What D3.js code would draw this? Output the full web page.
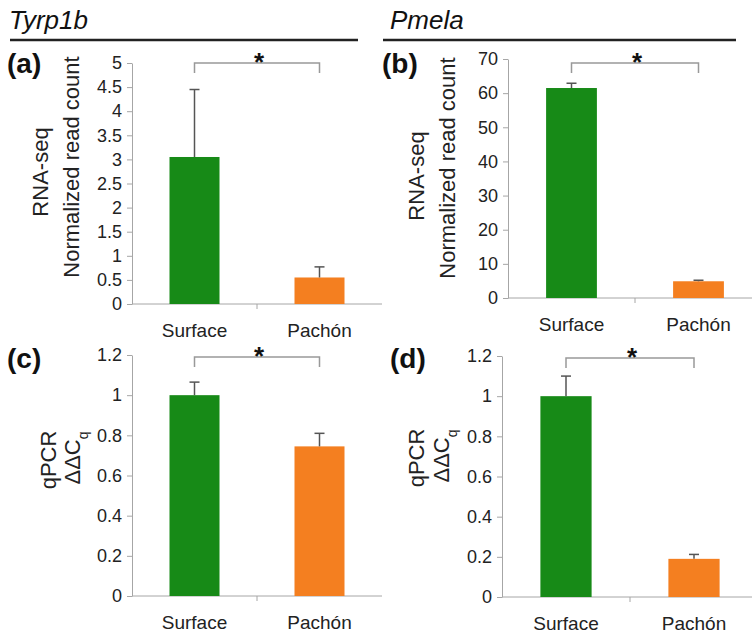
<!DOCTYPE html>
<html>
<head>
<meta charset="utf-8">
<script src="https://cdn.jsdelivr.net/npm/d3@7"></script>
<style>
  body { margin: 0; background: #fff; }
  svg { font-family: "Liberation Sans", Arial, sans-serif; }
</style>
</head>
<body>
<svg id="chart" width="752" height="633"></svg>
<script>
let categories = ["Surface", "Pachón"];

// values (bar height, upper error)
let tyrp1bRna = [3.05, 0.55];
let tyrp1bRnaErr = [1.4, 0.22];
let pmelaRna = [61.5, 4.9];
let pmelaRnaErr = [1.4, 0.3];
let tyrp1bQpcr = [1.0, 0.745];
let tyrp1bQpcrErr = [0.065, 0.065];
let pmelaQpcr = [1.0, 0.19];
let pmelaQpcrErr = [0.1, 0.022];

let ticksA = [0, 0.5, 1, 1.5, 2, 2.5, 3, 3.5, 4, 4.5, 5];
let ticksB = [0, 10, 20, 30, 40, 50, 60, 70];
let ticksQ = [0, 0.2, 0.4, 0.6, 0.8, 1, 1.2];

let color = d3.scaleOrdinal().domain(categories).range(["#178a17", "#f47f20"]);

let svg = d3.select("#chart");

// gene headers
function header(name, x, x1, x2) {
    svg.append("text")
        .attr("x", x).attr("y", 29)
        .style("font-style", "italic")
        .style("font-size", "26px")
        .attr("fill", "#111")
        .text(name);
    svg.append("line")
        .attr("x1", x1).attr("x2", x2)
        .attr("y1", 40).attr("y2", 40)
        .attr("stroke", "#222").attr("stroke-width", 2.5);
}
header("Tyrp1b", 9, 10, 358);
header("Pmela", 390, 383, 736);

function drawPanel(p) {
    let g = svg.append("g");

    let x = d3.scaleBand()
        .domain(categories)
        .range([p.left, p.right])
        .paddingInner(0.6)
        .paddingOuter(0.3);

    let y = d3.scaleLinear()
        .domain([0, p.ticks[p.ticks.length - 1]])
        .range([p.bottom, p.top]);

    // y axis
    let yAxis = g.append("g")
        .attr("transform", "translate(" + p.left + ",0)")
        .call(d3.axisLeft(y).tickValues(p.ticks).tickFormat(d => d).tickSize(5).tickSizeOuter(0).tickPadding(5));
    yAxis.selectAll("path, line").attr("stroke", "#a6a6a6");
    yAxis.selectAll("text")
        .attr("fill", "#222")
        .style("font-size", "18px")
        .style("font-family", "Liberation Sans, Arial, sans-serif");

    // x axis line, category boundary ticks
    g.append("line")
        .attr("x1", p.left).attr("x2", p.right)
        .attr("y1", p.bottom).attr("y2", p.bottom)
        .attr("stroke", "#a6a6a6");
    let step = x.step();
    g.selectAll(".xtick")
        .data(categories.slice(1))
        .enter().append("line")
        .attr("x1", d => x(d) - step * x.paddingInner() / 2)
        .attr("x2", d => x(d) - step * x.paddingInner() / 2)
        .attr("y1", p.bottom).attr("y2", p.bottom + 5)
        .attr("stroke", "#a6a6a6");

    g.selectAll(".cat")
        .data(categories)
        .enter().append("text")
        .attr("x", d => x(d) + x.bandwidth() / 2)
        .attr("y", p.bottom + 33)
        .attr("text-anchor", "middle")
        .style("font-size", "19px")
        .attr("fill", "#222")
        .text(d => d);

    // bars
    g.selectAll(".bar")
        .data(categories)
        .enter().append("rect")
        .attr("x", d => x(d))
        .attr("width", x.bandwidth())
        .attr("y", (d, i) => y(p.values[i]))
        .attr("height", (d, i) => y(0) - y(p.values[i]))
        .attr("fill", d => color(d));

    // error bars (upper only)
    let err = g.selectAll(".err")
        .data(categories)
        .enter().append("g")
        .attr("stroke", "#555")
        .attr("stroke-width", 1.5);
    err.append("line")
        .attr("x1", d => x(d) + x.bandwidth() / 2)
        .attr("x2", d => x(d) + x.bandwidth() / 2)
        .attr("y1", (d, i) => y(p.values[i]))
        .attr("y2", (d, i) => y(p.values[i] + p.errors[i]));
    err.append("line")
        .attr("x1", d => x(d) + x.bandwidth() / 2 - 5)
        .attr("x2", d => x(d) + x.bandwidth() / 2 + 5)
        .attr("y1", (d, i) => y(p.values[i] + p.errors[i]))
        .attr("y2", (d, i) => y(p.values[i] + p.errors[i]));

    // significance bracket
    let bx1 = x(categories[0]) + x.bandwidth() / 2,
        bx2 = x(categories[1]) + x.bandwidth() / 2,
        by = p.top + p.bracketOff;
    g.append("path")
        .attr("d", "M" + bx1 + "," + (by + 10) + "V" + by + "H" + bx2 + "V" + (by + 10))
        .attr("fill", "none")
        .attr("stroke", "#999")
        .attr("stroke-width", 1.5);
    g.append("text")
        .attr("x", (bx1 + bx2) / 2 + 2)
        .attr("y", by + 8)
        .attr("text-anchor", "middle")
        .style("font-size", "26px")
        .style("font-weight", "bold")
        .attr("fill", "#111")
        .text("*");

    // panel letter
    svg.append("text")
        .attr("x", p.labelX).attr("y", p.labelY)
        .style("font-size", "28px")
        .style("font-weight", "bold")
        .attr("fill", "#111")
        .text(p.label);

    // y titles
    p.titles.forEach(function(t) {
        let txt = svg.append("text")
            .attr("transform", "translate(" + t.x + "," + t.y + ") rotate(-90)")
            .attr("text-anchor", "middle")
            .style("font-size", "22px")
            .attr("fill", "#222");
        txt.append("tspan").text(t.text);
        if (t.sub) {
            txt.append("tspan")
                .attr("baseline-shift", "sub")
                .style("font-size", "14px")
                .text(t.sub);
        }
    });
}

drawPanel({
    label: "(a)", labelX: 7, labelY: 73,
    left: 132, right: 382, top: 63, bottom: 304,
    ticks: ticksA, values: tyrp1bRna, errors: tyrp1bRnaErr, bracketOff: 0,
    titles: [{text: "RNA-seq", x: 48, y: 172}, {text: "Normalized read count", x: 79, y: 167}]
});
drawPanel({
    label: "(b)", labelX: 382, labelY: 73,
    left: 508, right: 762, top: 59, bottom: 298,
    ticks: ticksB, values: pmelaRna, errors: pmelaRnaErr, bracketOff: 4,
    titles: [{text: "RNA-seq", x: 424, y: 176}, {text: "Normalized read count", x: 455, y: 168}]
});
drawPanel({
    label: "(c)", labelX: 7, labelY: 368,
    left: 132, right: 382, top: 355, bottom: 596,
    ticks: ticksQ, values: tyrp1bQpcr, errors: tyrp1bQpcrErr, bracketOff: 2,
    titles: [{text: "qPCR", x: 56, y: 460}, {text: "ΔΔC", sub: "q", x: 80, y: 458}]
});
drawPanel({
    label: "(d)", labelX: 390, labelY: 368,
    left: 502, right: 758, top: 356, bottom: 597,
    ticks: ticksQ, values: pmelaQpcr, errors: pmelaQpcrErr, bracketOff: 2,
    titles: [{text: "qPCR", x: 424, y: 458}, {text: "ΔΔC", sub: "q", x: 449, y: 456}]
});
</script>
</body>
</html>
